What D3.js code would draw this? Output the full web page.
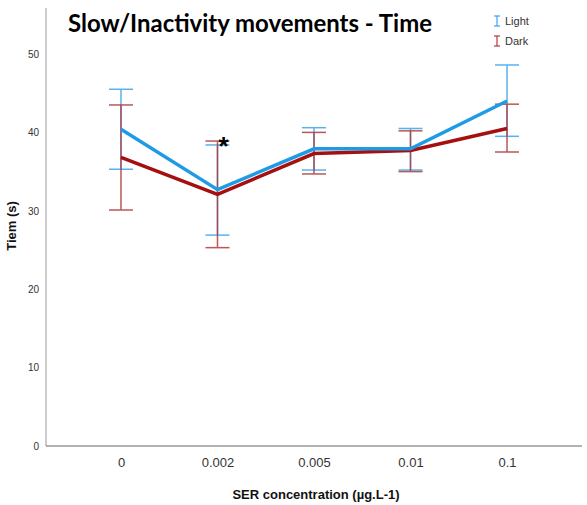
<!DOCTYPE html>
<html>
<head>
<meta charset="utf-8">
<script src="https://cdn.jsdelivr.net/npm/d3@7"></script>
<style>
  html, body { margin: 0; padding: 0; background: #fff; }
  svg { display: block; }
</style>
</head>
<body>
<svg id="chart" width="587" height="505"></svg>
<script>
// Concentration groups
const categories = ["0", "0.002", "0.005", "0.01", "0.1"];
// Mean time (s) with error bar limits, light phase
const lightMean = [40.4, 32.7, 37.9, 37.9, 44.0];
const lightUpper = [45.5, 38.4, 40.6, 40.5, 48.6];
const lightLower = [35.3, 26.9, 35.2, 35.2, 39.5];
// Mean time (s) with error bar limits, dark phase
const darkMean = [36.8, 32.1, 37.3, 37.7, 40.5];
const darkUpper = [43.5, 38.9, 40.0, 40.2, 43.6];
const darkLower = [30.1, 25.3, 34.7, 35.0, 37.5];
const yTicks = [0, 10, 20, 30, 40, 50];
const significant = ["0.002"];

const svg = d3.select("#chart");
const plotLeft = 46, plotRight = 582, plotTop = 8, plotBottom = 446;

const x = d3.scalePoint().domain(categories).range([plotLeft, plotRight]).padding(0.777);
const y = d3.scaleLinear().domain([0, 50]).range([plotBottom, 54]);

// Axes
const yAxis = svg.append("g").attr("transform", `translate(${plotLeft},0)`)
  .call(d3.axisLeft(y).tickValues(yTicks).tickSize(0).tickPadding(7));
yAxis.select(".domain").remove();
yAxis.selectAll("text").attr("font-family", "Liberation Sans, Arial, sans-serif")
  .attr("font-size", 10).attr("fill", "#333");
svg.append("line").attr("x1", plotLeft).attr("x2", plotLeft).attr("y1", plotTop).attr("y2", plotBottom)
  .attr("stroke", "#999").attr("stroke-width", 1);

const xAxis = svg.append("g").attr("transform", `translate(0,${plotBottom})`)
  .call(d3.axisBottom(x).tickSize(0).tickPadding(12));
xAxis.select(".domain").remove();
xAxis.selectAll("text").attr("font-family", "Liberation Sans, Arial, sans-serif")
  .attr("font-size", 13).attr("fill", "#333");
svg.append("line").attr("x1", plotLeft).attr("x2", plotRight).attr("y1", plotBottom).attr("y2", plotBottom)
  .attr("stroke", "#666").attr("stroke-width", 1);

// Axis titles
svg.append("text").attr("x", 316).attr("y", 499).attr("text-anchor", "middle")
  .attr("font-family", "Liberation Sans, Arial, sans-serif").attr("font-weight", "bold")
  .attr("font-size", 13).attr("fill", "#111").text("SER concentration (µg.L-1)");
svg.append("text").attr("transform", "translate(16,226) rotate(-90)").attr("text-anchor", "middle")
  .attr("font-family", "Liberation Sans, Arial, sans-serif").attr("font-weight", "bold")
  .attr("font-size", 13).attr("fill", "#111").text("Tiem (s)");

// Chart title
svg.append("text").attr("x", 68).attr("y", 32)
  .attr("font-family", "Lato, Open Sans, sans-serif").attr("font-weight", "bold")
  .attr("font-size", 25).attr("fill", "#000")
  .attr("textLength", 364).attr("lengthAdjust", "spacingAndGlyphs")
  .text("Slow/Inactivity movements - Time");

const series = [
  { name: "Light", color: "#1f9be6", errColor: "#3aa6ec", mean: lightMean, up: lightUpper, lo: lightLower },
  { name: "Dark", color: "#a50f0f", errColor: "#b03a3a", mean: darkMean, up: darkUpper, lo: darkLower }
];

const capW = 12;
const line = d3.line().x((d, i) => x(categories[i])).y(d => y(d));

// Error bars first, lines on top
series.forEach(s => {
  const g = svg.append("g").attr("stroke", s.errColor).attr("stroke-width", 1.5).attr("opacity", 0.85);
  categories.forEach((c, i) => {
    g.append("line").attr("x1", x(c)).attr("x2", x(c)).attr("y1", y(s.up[i])).attr("y2", y(s.lo[i]));
    g.append("line").attr("x1", x(c) - capW).attr("x2", x(c) + capW).attr("y1", y(s.up[i])).attr("y2", y(s.up[i]));
    g.append("line").attr("x1", x(c) - capW).attr("x2", x(c) + capW).attr("y1", y(s.lo[i])).attr("y2", y(s.lo[i]));
  });
});
series.slice().reverse().forEach(s => {
  svg.append("path").datum(s.mean).attr("d", line).attr("fill", "none")
    .attr("stroke", s.color).attr("stroke-width", 3.5).attr("stroke-linejoin", "miter");
});

// Significance marker
significant.forEach(c => {
  svg.append("text").attr("x", x(c) + 6).attr("y", 155).attr("text-anchor", "middle")
    .attr("font-family", "Liberation Sans, Arial, sans-serif").attr("font-weight", "bold")
    .attr("font-size", 26).attr("fill", "#000").text("*");
});

// Legend
const legend = svg.append("g").attr("transform", "translate(497,0)");
series.forEach((s, i) => {
  const cy = 21 + i * 20;
  const lg = legend.append("g").attr("stroke", s.errColor).attr("stroke-width", 1.2);
  lg.append("line").attr("x1", 0).attr("x2", 0).attr("y1", cy - 5).attr("y2", cy + 5);
  lg.append("line").attr("x1", -3).attr("x2", 3).attr("y1", cy - 5).attr("y2", cy - 5);
  lg.append("line").attr("x1", -3).attr("x2", 3).attr("y1", cy + 5).attr("y2", cy + 5);
  legend.append("text").attr("x", 8).attr("y", cy + 4)
    .attr("font-family", "Liberation Sans, Arial, sans-serif").attr("font-size", 11)
    .attr("fill", "#333").text(s.name);
});
</script>
</body>
</html>
